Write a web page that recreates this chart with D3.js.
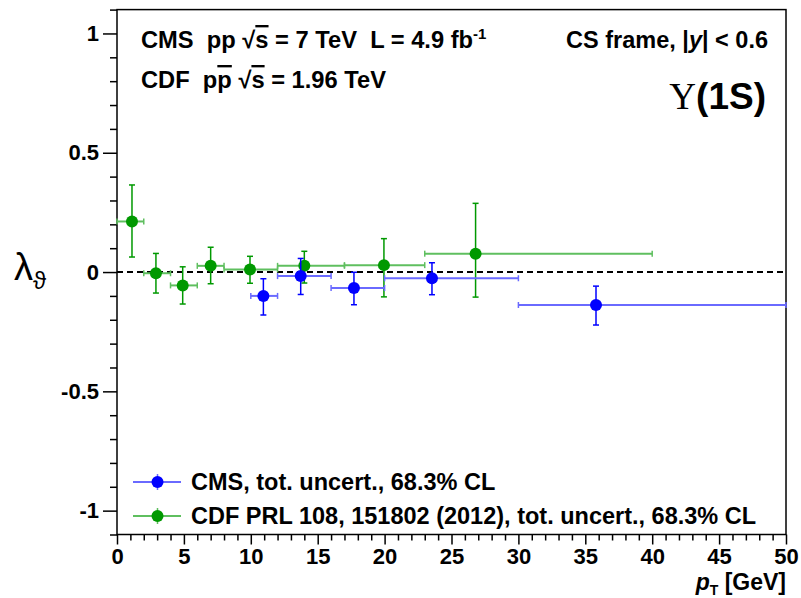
<!DOCTYPE html>
<html>
<head>
<meta charset="utf-8">
<script src="https://cdn.jsdelivr.net/npm/d3@7/dist/d3.min.js"></script>
<style>
  html, body { margin: 0; padding: 0; background: #fff; }
  svg { display: block; }
  text { font-family: "Liberation Sans", Arial, Helvetica, sans-serif; white-space: pre; }
</style>
</head>
<body>
<svg id="chart" width="801" height="598"></svg>
<script>
// CMS Upsilon(1S) lambda_theta, CS frame, |y| < 0.6
const cmsPt       = [10.94, 13.73, 17.71, 23.54, 35.8];
const cmsPtLow    = [10, 12, 16, 20, 30];
const cmsPtHigh   = [12, 16, 20, 30, 50];
const cmsLambda   = [-0.100, -0.017, -0.067, -0.026, -0.138];
const cmsErrUp    = [0.072, 0.074, 0.066, 0.065, 0.079];
const cmsErrDown  = [0.080, 0.077, 0.070, 0.069, 0.084];

// CDF PRL 108, 151802 (2012)
const cdfPt       = [1.12, 2.91, 4.91, 7.0, 9.94, 14.0, 19.95, 26.8];
const cdfPtLow    = [0, 2, 4, 6, 8, 12, 17, 23];
const cdfPtHigh   = [2, 4, 6, 8, 12, 17, 23, 40];
const cdfLambda   = [0.212, -0.005, -0.056, 0.026, 0.011, 0.026, 0.029, 0.077];
const cdfErrUp    = [0.153, 0.083, 0.078, 0.078, 0.055, 0.061, 0.111, 0.211];
const cdfErrDown  = [0.149, 0.083, 0.078, 0.075, 0.058, 0.072, 0.133, 0.182];

const xTicks = [0, 5, 10, 15, 20, 25, 30, 35, 40, 45, 50];
const yTicks = [-1, -0.5, 0, 0.5, 1];

const svg = d3.select("#chart");
const frameL = 117, frameR = 786, frameT = 9.6, frameB = 534.5;

const x = d3.scaleLinear().domain([0, 50]).range([frameL, frameR]);
const y = d3.scaleLinear().domain([-1.1, 1.1]).range([frameB, frameT]);

// reference line at zero
svg.append("line")
  .attr("x1", x(0)).attr("x2", x(50))
  .attr("y1", y(0)).attr("y2", y(0))
  .attr("stroke", "#000").attr("stroke-width", 2)
  .attr("stroke-dasharray", "6,4");

// frame
svg.append("rect")
  .attr("x", frameL).attr("y", frameT)
  .attr("width", frameR - frameL).attr("height", frameB - frameT)
  .attr("fill", "none").attr("stroke", "#000").attr("stroke-width", 1.5);

// y axis: major ticks with labels, minor ticks every 0.1
const yAxis = d3.axisLeft(y).tickValues(yTicks).tickSize(14).tickPadding(4)
  .tickFormat(d => d === 0 ? "0" : String(d));
const gy = svg.append("g").attr("transform", `translate(${frameL},0)`).call(yAxis);
gy.select(".domain").remove();
gy.selectAll("line").attr("stroke-width", 1.5);
gy.selectAll("text").attr("font-size", 22).attr("font-weight", "bold")
  .attr("font-family", "Liberation Sans, Arial, sans-serif").attr("fill", "#000");
const yMinor = d3.range(-11, 12).map(v => v / 10).filter(v => Math.abs(v * 2 - Math.round(v * 2)) > 1e-6);
const gym = svg.append("g").attr("transform", `translate(${frameL},0)`)
  .call(d3.axisLeft(y).tickValues(yMinor).tickSize(7).tickFormat(""));
gym.select(".domain").remove();
gym.selectAll("line").attr("stroke-width", 1.5);

// x axis
const xAxis = d3.axisBottom(x).tickValues(xTicks).tickSize(10).tickPadding(4);
const gx = svg.append("g").attr("transform", `translate(0,${frameB})`).call(xAxis);
gx.select(".domain").remove();
gx.selectAll("line").attr("stroke-width", 1.5);
gx.selectAll("text").attr("font-size", 22).attr("font-weight", "bold")
  .attr("font-family", "Liberation Sans, Arial, sans-serif").attr("fill", "#000");
const xMinor = d3.range(1, 50).filter(v => v % 5 !== 0);
const gxm = svg.append("g").attr("transform", `translate(0,${frameB})`)
  .call(d3.axisBottom(x).tickValues(xMinor).tickSize(6).tickFormat(""));
gxm.select(".domain").remove();
gxm.selectAll("line").attr("stroke-width", 1.5);

// data series
function drawSeries(pt, lo, hi, val, up, dn, colour, lightColour) {
  const g = svg.append("g");
  const rows = pt.map((p, i) => ({ p, lo: lo[i], hi: hi[i], v: val[i], up: up[i], dn: dn[i] }));
  const cap = 3;
  rows.forEach(d => {
    // horizontal bin width
    g.append("line").attr("x1", x(d.lo)).attr("x2", x(d.hi))
      .attr("y1", y(d.v)).attr("y2", y(d.v))
      .attr("stroke", lightColour).attr("stroke-width", 2);
    [d.lo, d.hi].forEach(e => g.append("line")
      .attr("x1", x(e)).attr("x2", x(e))
      .attr("y1", y(d.v) - cap).attr("y2", y(d.v) + cap)
      .attr("stroke", lightColour).attr("stroke-width", 1.5));
    // vertical total uncertainty
    g.append("line").attr("x1", x(d.p)).attr("x2", x(d.p))
      .attr("y1", y(d.v + d.up)).attr("y2", y(d.v - d.dn))
      .attr("stroke", colour).attr("stroke-width", 1.5);
    [d.v + d.up, d.v - d.dn].forEach(e => g.append("line")
      .attr("x1", x(d.p) - cap).attr("x2", x(d.p) + cap)
      .attr("y1", y(e)).attr("y2", y(e))
      .attr("stroke", colour).attr("stroke-width", 1.5));
  });
  g.selectAll("circle").data(rows).join("circle")
    .attr("cx", d => x(d.p)).attr("cy", d => y(d.v)).attr("r", 6)
    .attr("fill", colour);
}

const green = "#009900", greenLight = "#5fbf5f";
const blue = "#0000ff", blueLight = "#6a6aff";
drawSeries(cdfPt, cdfPtLow, cdfPtHigh, cdfLambda, cdfErrUp, cdfErrDown, green, greenLight);
drawSeries(cmsPt, cmsPtLow, cmsPtHigh, cmsLambda, cmsErrUp, cmsErrDown, blue, blueLight);

// legend
const legend = [
  { label: "CMS, tot. uncert., 68.3% CL", c: blue, lc: blueLight, yy: 482 },
  { label: "CDF PRL 108, 151802 (2012), tot. uncert., 68.3% CL", c: green, lc: greenLight, yy: 516 }
];
legend.forEach(l => {
  svg.append("line").attr("x1", 133).attr("x2", 181).attr("y1", l.yy).attr("y2", l.yy)
    .attr("stroke", l.lc).attr("stroke-width", 2);
  svg.append("line").attr("x1", 157.5).attr("x2", 157.5).attr("y1", l.yy - 8).attr("y2", l.yy + 8)
    .attr("stroke", l.lc).attr("stroke-width", 1.5);
  svg.append("circle").attr("cx", 157.5).attr("cy", l.yy).attr("r", 6).attr("fill", l.c);
  svg.append("text").attr("x", 191).attr("y", l.yy + 8)
    .attr("font-size", 23.5).attr("font-weight", "bold").text(l.label);
});

// header text
const t1 = svg.append("text").attr("x", 141).attr("y", 48)
  .attr("font-size", 23.7).attr("font-weight", "bold");
t1.append("tspan").text("CMS  pp ");
t1.append("tspan").text("\u221A");
t1.append("tspan").style("text-decoration", "overline").text("s");
t1.append("tspan").text(" = 7 TeV  L = 4.9 fb");
t1.append("tspan").attr("font-size", 15).attr("dy", -9).text("-1");

const t2 = svg.append("text").attr("x", 141).attr("y", 88)
  .attr("font-size", 23.7).attr("font-weight", "bold");
t2.append("tspan").text("CDF  p");
t2.append("tspan").style("text-decoration", "overline").text("p");
t2.append("tspan").text(" \u221A");
t2.append("tspan").style("text-decoration", "overline").text("s");
t2.append("tspan").text(" = 1.96 TeV");

const t3 = svg.append("text").attr("x", 768).attr("y", 48).attr("text-anchor", "end")
  .attr("font-size", 23.5).attr("font-weight", "bold");
t3.append("tspan").text("CS frame, |");
t3.append("tspan").attr("font-style", "italic").text("y");
t3.append("tspan").text("| < 0.6");

const t4 = svg.append("text").attr("x", 766).attr("y", 109).attr("text-anchor", "end")
  .attr("font-size", 37);
t4.append("tspan").attr("font-family", "Liberation Serif, Times New Roman, serif").text("\u03A5");
t4.append("tspan").attr("font-weight", "bold").text("(1S)");

// axis titles
const yl = svg.append("text").attr("x", 14).attr("y", 280)
  .attr("font-family", "Liberation Serif, Times New Roman, serif").attr("font-size", 38);
yl.append("tspan").text("\u03BB");
yl.append("tspan").attr("font-size", 24).attr("dy", 9).text("\u03D1");

const xl = svg.append("text").attr("x", 786).attr("y", 590).attr("text-anchor", "end")
  .attr("font-size", 23).attr("font-weight", "bold");
xl.append("tspan").attr("font-style", "italic").text("p");
xl.append("tspan").attr("font-size", 14).attr("dy", 5).text("T");
xl.append("tspan").attr("dy", -5).text(" [GeV]");
</script>
</body>
</html>
